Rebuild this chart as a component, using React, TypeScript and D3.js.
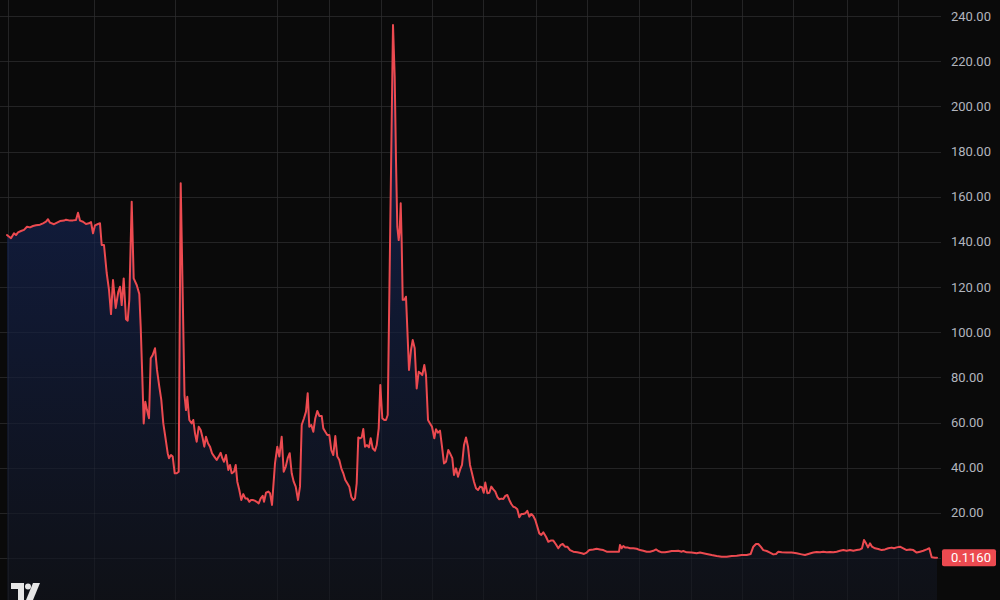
import React from "react";
import * as d3 from "d3";

// [day, price] observations (day 0 = first bar)
const series: [number, number][] = [
  [0, 143.0], [4, 141.6], [7, 143.8], [9, 143], [11, 144.2], [14, 144.8], [17, 145.3], [20, 146.7],
  [23, 146.4], [26, 147], [29, 147.3], [33, 147.6], [36, 148.2], [39, 148.9], [41, 150], [43, 148.5],
  [47, 147.8], [50, 148.5], [53, 149.2], [57, 149.4], [59, 149.8], [63, 149.4], [66, 149.5], [69, 149.7],
  [71, 152.9], [73, 149.4], [76, 148.9], [79, 147.9], [82, 148.2], [84, 148.8], [86, 143.8], [88, 147.3],
  [91, 147.9], [93, 148.2], [94.7, 138.6], [97, 138.6], [99.7, 126.2], [102, 118.7], [104, 108],
  [106, 123.1], [108.7, 110.7], [111.3, 117.9], [113, 120.1], [114.7, 112], [116.7, 123.8], [119, 105.7],
  [120.7, 105.1], [122.3, 114.3], [124.7, 157.8], [126.7, 123.8], [129.7, 120.9], [132.3, 116.9],
  [133.7, 102.4], [135.3, 80.3], [136.7, 59.6], [138.3, 69.2], [140, 65.5], [142, 61.9], [143.7, 88.4],
  [145.7, 89.9], [148, 92.9], [150, 83.3], [152.3, 75.9], [154.3, 70], [156.3, 59.6], [158.3, 53.7],
  [160.7, 46.4], [162, 44.2], [164, 45.6], [165.7, 44.9], [167.7, 37.5], [169.7, 37.5], [171.7, 38.2],
  [173.7, 165.9], [177.5, 72], [179, 65.5], [180.3, 71.4], [182.3, 61.1], [184.7, 59.6], [186.3, 61.1],
  [188, 55.2], [189.7, 51.5], [191.7, 58.1], [193.7, 56.7], [195.7, 53], [197.3, 49.3], [199, 53.7],
  [201, 50.8], [203, 49.3], [205, 46.4], [207.3, 44.9], [209.7, 43.4], [211.7, 44.9], [213.7, 46.6],
  [215.3, 44.2], [217, 42.6], [219, 45.6], [221.3, 39], [223, 41.2], [224.7, 37.5], [227, 38.2],
  [228.7, 41.2], [230.3, 33.8], [232.3, 30.1], [234.3, 25.7], [236.3, 28.3], [238.3, 26.4], [240.3, 26.4],
  [242.3, 24.9], [244, 25.7], [245.7, 25.7], [247.7, 25.4], [249.7, 24.9], [251.7, 24.2], [253.7, 26.4],
  [255.7, 27.5], [257, 24.9], [259, 28.9], [261.3, 29.4], [263, 28.7], [265, 23.5], [266.3, 31.6],
  [268, 41.9], [270.3, 49.3], [272.3, 44.9], [274.7, 53.7], [276.7, 38.2], [278.7, 40.4], [280.7, 44.2],
  [282.7, 46.4], [284.7, 37.5], [286.7, 33.8], [288.7, 31.6], [291, 25.7], [293, 31.6], [294.7, 58.9],
  [297, 61.9], [299, 64.8], [300.7, 72.9], [302.3, 58.1], [304.3, 58.9], [306.3, 55.9], [308.3, 61.9],
  [310.3, 65.1], [312.3, 62.9], [314.7, 62.9], [316.3, 57.4], [318.3, 55.9], [320.3, 54.5], [322.3, 54.5],
  [324.3, 47.8], [326.3, 45.6], [328.3, 54], [330.3, 44.9], [332.3, 43.4], [334.3, 39.7], [336.3, 37.5],
  [338.3, 34.5], [340.3, 33.1], [342.3, 31.6], [344.3, 27.1], [346.3, 25.7], [348, 26.4], [349.7, 33.1],
  [351.3, 53.4], [353, 53], [354.7, 53.4], [356.3, 57.1], [358, 49.3], [360, 50], [362, 49], [363.7, 53],
  [365.7, 48.6], [368, 47.5], [369.7, 50], [371.7, 57.4], [373.3, 76.6], [375.3, 61.9], [377.3, 61.1],
  [379, 61.1], [380.7, 63.3], [386, 236], [387.7, 213], [389, 176], [390.3, 146.7], [391.7, 140.8],
  [392.7, 145.2], [393.7, 157.1], [394.7, 139.4], [395.7, 114.3], [397.3, 114.3], [399, 115.7],
  [402, 83.3], [404, 92.1], [405.7, 96.5], [407.7, 92.9], [409.7, 75.1], [411.7, 82.5], [413.7, 81.8],
  [415.3, 81], [417.3, 85.5], [419, 81], [421, 61.1], [423, 59.6], [425, 58.1], [427.3, 53], [429, 57],
  [431, 55.5], [433, 56.4], [435, 49.3], [437, 41.9], [439, 42.6], [441.3, 47.8], [443.3, 46.1],
  [445.3, 44.2], [447, 36.8], [449, 39.7], [451, 36], [453, 39], [455, 41.2], [457, 50], [459, 53.4],
  [461, 49.3], [463, 41.2], [465, 37.5], [467, 33.8], [469, 30.9], [471, 30.1], [473, 31.6], [475, 31.3],
  [476.7, 28.9], [478.3, 33.4], [480.3, 28.7], [482.3, 28.9], [484.3, 31.6], [486.3, 30.4], [488.3, 29.4],
  [490.3, 27.1], [492.3, 26], [494.3, 26.3], [496.3, 26.1], [498.3, 27.5], [500.3, 27.9], [502.3, 25.7],
  [504.3, 23.9], [506.3, 22.7], [508.3, 22.4], [510.3, 21.6], [512.3, 18], [514.3, 19.5], [516.3, 19.5],
  [518.3, 19.8], [520.3, 20.9], [522.3, 18.3], [524.3, 19.5], [526.3, 18.6], [528.3, 16.8], [530.3, 13.9],
  [532.3, 10.9], [534.3, 10.2], [536.3, 11.4], [539, 9.4], [541.3, 7.2], [543.7, 7.7], [546.3, 7.7],
  [548.7, 6.2], [551.3, 4.3], [553.7, 5.8], [555.7, 6.2], [558, 5], [560.3, 5], [563, 3.5], [566.3, 2.8],
  [570.3, 2.5], [574.7, 2.1], [577, 1.8], [579.7, 2.4], [582.3, 3.5], [586.3, 3.8], [589.7, 4.1],
  [593, 3.8], [596.3, 3.5], [599.7, 2.8], [603, 2.8], [606.3, 2.8], [609.7, 2.8], [612, 2.8], [613, 5.8],
  [614.7, 4.3], [616.3, 5.3], [618, 4.7], [620.3, 4.7], [623, 4.3], [626.3, 4.3], [629.7, 4.1], [633, 3.5],
  [636.3, 3.2], [639.7, 2.8], [643, 2.8], [646.3, 3.2], [649, 3.8], [651.3, 3.1], [654.7, 2.5], [658, 2.5],
  [661.3, 2.8], [664.7, 3.1], [668, 3.1], [671.3, 3.2], [674.7, 2.8], [676.3, 3.1], [679.7, 2.5],
  [684.7, 2.4], [689.7, 2.1], [693, 2.4], [696.3, 2.1], [699.7, 1.8], [704.7, 1.3], [709.7, 0.9],
  [714.7, 0.6], [719.7, 0.6], [724.7, 0.9], [729.7, 1], [734.7, 1.3], [739.7, 1.3], [743.7, 1.8],
  [746.3, 5], [749, 6.2], [751.3, 6.2], [753.7, 5], [756.3, 3.5], [759.7, 3.1], [763, 2.4], [766.3, 1.6],
  [769, 1.8], [771.3, 2.8], [774.7, 2.5], [779.7, 2.4], [784.7, 2.4], [789.7, 2.1], [794.7, 1.6],
  [798, 1.3], [801.3, 1.8], [803.7, 2.1], [806.3, 2.4], [809.7, 2.7], [813, 2.5], [816.3, 2.8],
  [819.7, 2.5], [823, 2.7], [826.3, 2.5], [829.7, 2.8], [833, 3.2], [836.3, 3.5], [839.7, 3.2], [843, 3.5],
  [846.3, 3.2], [849.7, 3.5], [853, 3.8], [855, 4.3], [857, 8], [859, 6.5], [861, 4.7], [863, 6.5],
  [865, 5], [868, 4.3], [871.3, 4], [874.7, 3.5], [878, 3.8], [881.3, 4.3], [884.7, 4.6], [887, 4.3],
  [889.7, 4.7], [893, 5], [896.3, 4.3], [899.7, 3.5], [903, 3.8], [906.3, 3.5], [909.7, 2.4], [913, 2.8],
  [916.3, 3.2], [919.7, 3.8], [922.3, 4.3], [924.7, 0.3], [928, 0.12], [930, 0.116],
];

const priceTicks = [0, 20, 40, 60, 80, 100, 120, 140, 160, 180, 200, 220, 240];
const gridDays = [1, 87, 168, 270, 322, 374, 425, 476, 529, 580, 632, 684, 735, 786, 840, 891];
const lastPrice = 0.116;

const W = 1000;
const H = 600;
const RED = "#ec4a50";

export default function App() {
  const x = d3.scaleLinear().domain([0, 930]).range([7, 937]);
  const y = d3.scaleLinear().domain([0, 240]).range([558, 16]);

  const line = d3
    .line<[number, number]>()
    .x((d) => x(d[0]))
    .y((d) => y(d[1]));
  const area = d3
    .area<[number, number]>()
    .x((d) => x(d[0]))
    .y0(H)
    .y1((d) => y(d[1]));

  const plotRight = 941;
  const yLast = y(lastPrice);

  return (
    <svg
      width={W}
      height={H}
      style={{ position: "fixed", left: 0, top: 0, display: "block", background: "#0a0a0a" }}
    >
      <defs>
        <linearGradient id="areaGrad" gradientUnits="userSpaceOnUse" x1="0" y1={y(240)} x2="0" y2={H}>
          <stop offset="0" stopColor="#12214f" />
          <stop offset="1" stopColor="#0f1117" />
        </linearGradient>
      </defs>
      <rect x={0} y={0} width={W} height={H} fill="#0a0a0a" />
      {/* grid */}
      <g stroke="#1c1c1e" strokeWidth={1}>
        {priceTicks.map((t) => (
          <line key={"h" + t} x1={0} x2={plotRight} y1={Math.round(y(t)) + 0.5} y2={Math.round(y(t)) + 0.5} />
        ))}
        {gridDays.map((d) => (
          <line key={"v" + d} x1={Math.round(x(d)) + 0.5} x2={Math.round(x(d)) + 0.5} y1={0} y2={H} />
        ))}
      </g>
      <path d={area(series) ?? ""} fill="url(#areaGrad)" fillOpacity={0.95} />
      {/* redraw faint grid over the area */}
      <g stroke="#ffffff" strokeOpacity={0.035} strokeWidth={1}>
        {priceTicks.map((t) => (
          <line key={"h2" + t} x1={0} x2={plotRight} y1={Math.round(y(t)) + 0.5} y2={Math.round(y(t)) + 0.5} />
        ))}
        {gridDays.map((d) => (
          <line key={"v2" + d} x1={Math.round(x(d)) + 0.5} x2={Math.round(x(d)) + 0.5} y1={0} y2={H} />
        ))}
      </g>
      <path d={line(series) ?? ""} fill="none" stroke={RED} strokeWidth={2} strokeLinejoin="round" strokeLinecap="round" />
      {/* price scale labels */}
      <g fontFamily="Roboto, 'Noto Sans', sans-serif" fontSize={13} fill="#b2b5be">
        {priceTicks
          .filter((t) => t > 0)
          .map((t) => (
            <text key={"l" + t} x={951} y={y(t)} dominantBaseline="central">
              {t.toFixed(2)}
            </text>
          ))}
      </g>
      {/* last price label */}
      <rect x={942} y={yLast - 8.5} width={54} height={17} rx={2} fill={RED} />
      <text
        x={951}
        y={yLast}
        dominantBaseline="central"
        fontFamily="Roboto, 'Noto Sans', sans-serif"
        fontSize={13}
        fill="#ffffff"
      >
        {lastPrice.toFixed(4)}
      </text>
      {/* logo */}
      <g fill="#e6e6e6">
        <path d="M11 583 H24 V600 H18 V589 H11 Z" />
        <circle cx={28} cy={586.5} r={3} />
        <path d="M33 583 H40 L33 600 H26 Z" />
      </g>
    </svg>
  );
}
